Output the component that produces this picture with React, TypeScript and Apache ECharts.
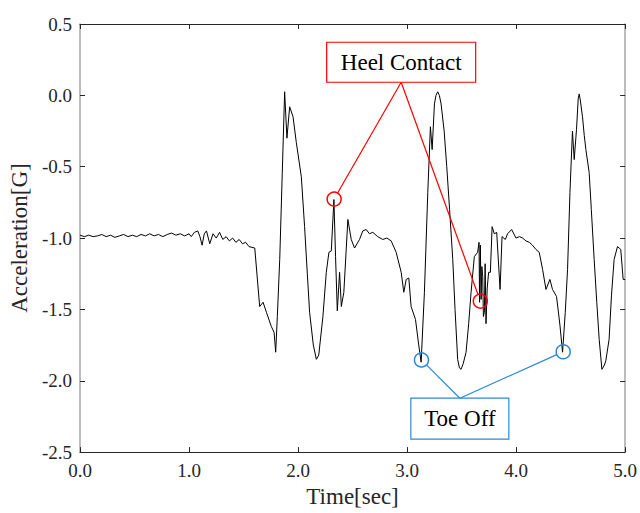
import React, { useEffect, useRef } from "react";
import * as echarts from "echarts";

// Time [sec]
const timeSec: number[] = [
  0.00, 0.04, 0.08, 0.12, 0.16, 0.20, 0.24, 0.28, 0.32, 0.36, 0.40, 0.44, 0.48, 0.52, 0.56, 0.60,
  0.64, 0.68, 0.72, 0.76, 0.80, 0.84, 0.88, 0.92, 0.96, 1.00,
  1.02, 1.05, 1.08, 1.10, 1.12, 1.14, 1.16, 1.19, 1.22, 1.25, 1.28, 1.31, 1.34, 1.37, 1.40, 1.43,
  1.46, 1.49, 1.52, 1.55,
  1.603, 1.648, 1.679, 1.71, 1.755, 1.78, 1.795, 1.81, 1.832, 1.855, 1.877, 1.898, 1.923, 1.954,
  1.984, 2.03, 2.06, 2.085, 2.106, 2.14, 2.168, 2.19, 2.228, 2.259, 2.283, 2.305, 2.329, 2.344,
  2.36, 2.381, 2.397, 2.42, 2.457, 2.488, 2.518, 2.564, 2.594, 2.625, 2.655, 2.686, 2.73, 2.777,
  2.815, 2.854, 2.90, 2.946, 2.97, 2.992, 3.016, 3.037, 3.077, 3.107, 3.129, 3.159, 3.19, 3.214,
  3.23, 3.251, 3.265, 3.281, 3.296, 3.312, 3.34, 3.364, 3.39, 3.419, 3.44, 3.464, 3.48, 3.495,
  3.515, 3.541, 3.565, 3.587, 3.617, 3.647, 3.66, 3.665, 3.672, 3.679, 3.686, 3.694, 3.70, 3.709,
  3.716, 3.724, 3.735, 3.748, 3.764, 3.78, 3.80, 3.822, 3.853, 3.871, 3.901, 3.922, 3.959, 3.999,
  4.03, 4.06, 4.09, 4.121, 4.15, 4.182, 4.212, 4.243, 4.274, 4.31, 4.334, 4.371, 4.402, 4.426,
  4.451, 4.472, 4.494, 4.517, 4.533, 4.554, 4.57, 4.579, 4.59, 4.609, 4.625, 4.64, 4.67, 4.69,
  4.716, 4.74, 4.762, 4.787, 4.81, 4.823, 4.853, 4.875, 4.899, 4.93, 4.945, 4.96, 4.982, 5.0,
];

// Acceleration [G]
const accelG: number[] = [
  -0.98, -0.99, -0.98, -0.99, -0.985, -0.975, -0.99, -0.98, -0.995, -0.985, -0.975, -0.99, -0.98, -0.99, -0.975, -0.985,
  -0.97, -0.985, -0.975, -0.99, -0.975, -0.965, -0.98, -0.97, -0.985, -0.97,
  -0.99, -0.96, -0.95, -0.99, -1.05, -0.97, -0.95, -1.04, -0.97, -1.0, -0.96, -1.01, -0.99, -1.02, -1.0, -1.03,
  -1.01, -1.04, -1.03, -1.06,
  -1.07, -1.48, -1.45, -1.52, -1.62, -1.66, -1.80, -1.55, -1.15, -0.55, 0.025, -0.30, -0.08, -0.15,
  -0.33, -0.57, -0.92, -1.25, -1.52, -1.75, -1.85, -1.82, -1.55, -1.24, -1.10, -1.09, -0.73, -1.13,
  -1.51, -1.24, -1.48, -1.38, -0.87, -1.01, -1.07, -1.01, -0.95, -0.94, -0.97, -0.96, -0.99, -1.01,
  -1.0, -1.02, -1.10, -1.24, -1.38, -1.29, -1.28, -1.48, -1.57, -1.75, -1.87, -1.38, -0.68, -0.22,
  -0.38, -0.06, 0.0, 0.025, 0.0, -0.06, -0.25, -0.50, -0.80, -1.15, -1.50, -1.85, -1.91, -1.92,
  -1.88, -1.80, -1.60, -1.38, -1.13, -1.10, -1.03, -1.45, -1.05, -1.43, -1.20, -1.27, -1.55, -1.52,
  -1.18, -1.60, -1.35, -1.24, -1.24, -0.92, -0.97, -0.96, -1.36, -0.99, -1.01, -0.97, -0.94, -1.00,
  -0.99, -1.00, -1.02, -1.03, -1.05, -1.08, -1.10, -1.22, -1.36, -1.29, -1.36, -1.41, -1.61, -1.80,
  -1.52, -1.22, -0.68, -0.25, -0.45, -0.24, -0.02, 0.01, -0.04, -0.15, -0.28, -0.38, -0.54, -0.80,
  -1.15, -1.45, -1.71, -1.92, -1.89, -1.86, -1.71, -1.40, -1.15, -1.06, -1.07, -1.08, -1.29, -1.29,
];

const xTickValues = [0, 1, 2, 3, 4, 5];
const yTickValues = [0.5, 0.0, -0.5, -1.0, -1.5, -2.0, -2.5];

// annotation points [time, accel]
const heelContactPoints: number[][] = [[2.331, -0.727], [3.672, -1.442]];
const toeOffPoints: number[][] = [[3.132, -1.854], [4.432, -1.797]];
const heelLabel = { text: "Heel Contact", at: [2.946, 0.232] };
const toeLabel = { text: "Toe Off", at: [3.484, -2.266] };

const FONT = "'Liberation Serif', 'Times New Roman', serif";
const RED = "#ff0000";
const BLUE = "#2b88d8";
const AXIS = "#262626";
const GRAY = "#a6a6a6";

export default function App() {
  const ref = useRef<HTMLDivElement>(null);
  useEffect(() => {
    if (!ref.current) return;
    const chart = echarts.init(ref.current, undefined, { renderer: "svg" });
    const fmt = (v: number) => v.toFixed(1);
    chart.setOption({
      animation: false,
      backgroundColor: "#ffffff",
      grid: { left: 80, right: 14, top: 24, bottom: 59, containLabel: false },
      xAxis: [
        {
          type: "value",
          min: 0,
          max: 5,
          interval: 1,
          name: "Time[sec]",
          nameLocation: "middle",
          nameGap: 30,
          nameTextStyle: { fontFamily: FONT, fontSize: 23, color: AXIS },
          axisLine: { show: true, onZero: false, lineStyle: { color: AXIS, width: 1 } },
          axisTick: { show: true, inside: true, length: 5, lineStyle: { color: AXIS } },
          axisLabel: { fontFamily: FONT, fontSize: 19, color: AXIS, margin: 9, formatter: fmt, customValues: xTickValues },
          splitLine: { show: false },
        },
        {
          type: "value",
          position: "top",
          min: 0,
          max: 5,
          interval: 1,
          axisLine: { show: true, onZero: false, lineStyle: { color: AXIS, width: 1 } },
          axisTick: { show: true, inside: true, length: 5, lineStyle: { color: AXIS } },
          axisLabel: { show: false },
          splitLine: { show: false },
        },
      ],
      yAxis: [
        {
          type: "value",
          min: -2.5,
          max: 0.5,
          interval: 0.5,
          name: "Acceleration[G]",
          nameLocation: "middle",
          nameGap: 44,
          nameTextStyle: { fontFamily: FONT, fontSize: 23, color: AXIS },
          axisLine: { show: true, onZero: false, lineStyle: { color: GRAY, width: 1.5 } },
          axisTick: { show: true, inside: true, length: 5, lineStyle: { color: AXIS } },
          axisLabel: { fontFamily: FONT, fontSize: 19, color: AXIS, margin: 8, formatter: fmt, customValues: yTickValues },
          splitLine: { show: false },
        },
        {
          type: "value",
          position: "right",
          min: -2.5,
          max: 0.5,
          interval: 0.5,
          axisLine: { show: true, onZero: false, lineStyle: { color: GRAY, width: 1.5 } },
          axisTick: { show: true, inside: true, length: 5, lineStyle: { color: AXIS } },
          axisLabel: { show: false },
          splitLine: { show: false },
        },
      ],
      series: [
        {
          type: "line",
          data: timeSec.map((t, i) => [t, accelG[i]]),
          showSymbol: false,
          symbol: "none",
          lineStyle: { color: "#000000", width: 1 },
          silent: true,
        },
      ],
    });

    const px = (p: number[]) => chart.convertToPixel({ gridIndex: 0 }, p) as number[];
    const R = 7;
    const graphics: any[] = [];
    const addGroup = (
      label: { text: string; at: number[] },
      pts: number[][],
      color: string,
      w: number,
      h: number,
      anchorTop: boolean
    ) => {
      const c = px(label.at);
      const ax = c[0];
      const ay = anchorTop ? c[1] - h / 2 : c[1] + h / 2;
      pts.forEach((p) => {
        const q = px(p);
        const dx = q[0] - ax;
        const dy = q[1] - ay;
        const d = Math.sqrt(dx * dx + dy * dy);
        graphics.push({
          type: "line",
          shape: { x1: ax, y1: ay, x2: q[0] - (dx / d) * R, y2: q[1] - (dy / d) * R },
          style: { stroke: color, lineWidth: 1.2 },
          z: 10,
        });
        graphics.push({
          type: "circle",
          shape: { cx: q[0], cy: q[1], r: R },
          style: { stroke: color, lineWidth: 1.5, fill: "none" },
          z: 10,
        });
      });
      graphics.push({
        type: "rect",
        shape: { x: c[0] - w / 2, y: c[1] - h / 2, width: w, height: h },
        style: { stroke: color, lineWidth: 1.2, fill: "#ffffff" },
        z: 11,
      });
      graphics.push({
        type: "text",
        x: c[0],
        y: c[1],
        style: {
          text: label.text,
          font: `23px ${FONT}`,
          fill: "#000000",
          align: "center",
          verticalAlign: "middle",
        },
        z: 12,
      });
    };
    addGroup(heelLabel, heelContactPoints, RED, 149, 40, false);
    addGroup(toeLabel, toeOffPoints, BLUE, 98, 41, true);
    chart.setOption({ graphic: graphics });

    return () => chart.dispose();
  }, []);
  return (
    <div
      ref={ref}
      style={{ position: "fixed", left: 0, top: 0, width: 640, height: 513, background: "#fff" }}
    />
  );
}
